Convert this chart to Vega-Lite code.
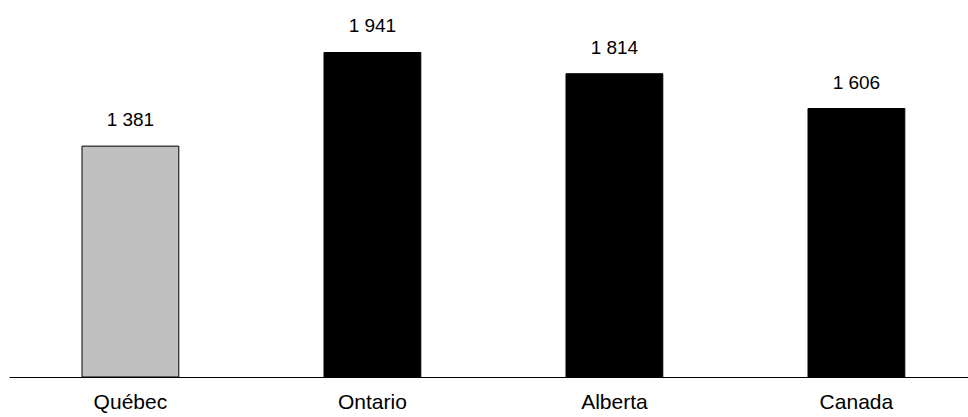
{
  "$schema": "https://vega.github.io/schema/vega-lite/v6.json",
  "autosize": {"type": "none"},
  "padding": {"left": 9, "top": 0, "right": 0, "bottom": 40},
  "width": 959,
  "height": 377,
  "background": "white",
  "config": {"view": {"stroke": null}, "font": "Liberation Sans"},
  "data": {
    "values": [
      {"region": "Québec", "value": 1381, "label": "1 381", "highlight": "qc"},
      {"region": "Ontario", "value": 1941, "label": "1 941", "highlight": "other"},
      {"region": "Alberta", "value": 1814, "label": "1 814", "highlight": "other"},
      {"region": "Canada", "value": 1606, "label": "1 606", "highlight": "other"}
    ]
  },
  "encoding": {
    "x": {
      "field": "region",
      "type": "nominal",
      "sort": null,
      "scale": {"paddingInner": 0.6, "paddingOuter": 0.2814, "align": 0.536},
      "axis": {
        "title": null,
        "labelAngle": 0,
        "ticks": false,
        "labelPadding": 14,
        "labelFontSize": 21,
        "labelColor": "black",
        "domainColor": "black",
        "domainWidth": 1,
        "labelFont": "Liberation Sans"
      }
    },
    "y": {
      "field": "value",
      "type": "quantitative",
      "scale": {"domain": [0, 2255], "nice": false},
      "axis": null
    }
  },
  "layer": [
    {
      "mark": {"type": "bar", "stroke": "black", "strokeWidth": 1},
      "encoding": {
        "color": {
          "field": "highlight",
          "type": "nominal",
          "scale": {"domain": ["qc", "other"], "range": ["#c0c0c0", "#000000"]},
          "legend": null
        }
      }
    },
    {
      "mark": {"type": "text", "baseline": "alphabetic", "dy": -20, "fontSize": 19, "color": "black", "font": "Liberation Sans"},
      "encoding": {"text": {"field": "label"}}
    }
  ]
}
